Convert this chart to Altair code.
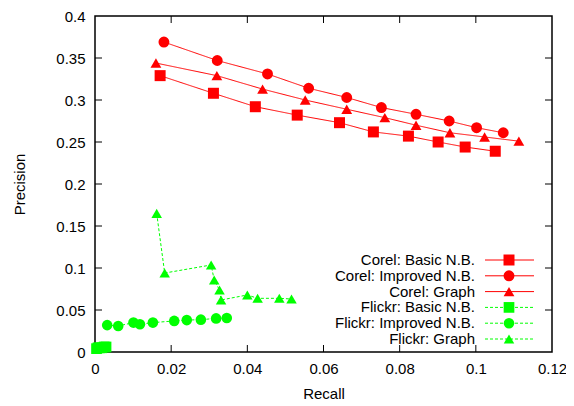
import altair as alt
import pandas as pd

# ---------------- data ----------------
series_names = [
    "Corel: Basic N.B.",
    "Corel: Improved N.B.",
    "Corel: Graph",
    "Flickr: Basic N.B.",
    "Flickr: Improved N.B.",
    "Flickr: Graph",
]

corel_basic_recall = [0.0171, 0.0311, 0.0421, 0.0531, 0.0642, 0.0731, 0.0823, 0.0901, 0.0972, 0.1051]
corel_basic_precision = [0.329, 0.308, 0.292, 0.282, 0.273, 0.262, 0.257, 0.250, 0.244, 0.239]

corel_improved_recall = [0.0181, 0.0321, 0.0453, 0.0561, 0.0661, 0.0752, 0.0843, 0.0930, 0.1002, 0.1072]
corel_improved_precision = [0.369, 0.347, 0.331, 0.314, 0.303, 0.291, 0.283, 0.275, 0.267, 0.261]

corel_graph_recall = [0.0160, 0.0320, 0.0440, 0.0552, 0.0661, 0.0761, 0.0843, 0.0932, 0.1023, 0.1113]
corel_graph_precision = [0.344, 0.329, 0.313, 0.300, 0.289, 0.279, 0.270, 0.261, 0.256, 0.251]

flickr_basic_recall = [0.0004, 0.0008, 0.0012, 0.0018, 0.0024, 0.0029]
flickr_basic_precision = [0.004, 0.005, 0.005, 0.005, 0.006, 0.006]

flickr_improved_recall = [0.0032, 0.0061, 0.0101, 0.0118, 0.0152, 0.0208, 0.0241, 0.0278, 0.0318, 0.0346]
flickr_improved_precision = [0.032, 0.031, 0.035, 0.033, 0.035, 0.037, 0.038, 0.0385, 0.040, 0.0405]

flickr_graph_recall = [0.0162, 0.0183, 0.0305, 0.0313, 0.0327, 0.0331, 0.0400, 0.0427, 0.0484, 0.0516]
flickr_graph_precision = [0.165, 0.094, 0.1036, 0.0857, 0.0738, 0.0619, 0.0679, 0.0639, 0.0639, 0.0631]

x_tick_values = [0, 0.02, 0.04, 0.06, 0.08, 0.1, 0.12]
y_tick_values = [0, 0.05, 0.1, 0.15, 0.2, 0.25, 0.3, 0.35, 0.4]

colors = ["#ff0000", "#ff0000", "#ff0000", "#00ff00", "#00ff00", "#00ff00"]
shapes = ["square", "circle", "triangle-up", "square", "circle", "triangle-up"]
sizes = [121, 110, 120, 121, 110, 120]
dashes = [[1, 0], [1, 0], [1, 0], [3, 2], [3, 2], [3, 2]]

# ---------------- build table ----------------
all_recall = [corel_basic_recall, corel_improved_recall, corel_graph_recall,
              flickr_basic_recall, flickr_improved_recall, flickr_graph_recall]
all_precision = [corel_basic_precision, corel_improved_precision, corel_graph_precision,
                 flickr_basic_precision, flickr_improved_precision, flickr_graph_precision]

rows = []
for name, rs, ps in zip(series_names, all_recall, all_precision):
    for i, (r, p) in enumerate(zip(rs, ps)):
        rows.append({"series": name, "recall": r, "precision": p, "order": i})
df = pd.DataFrame(rows)

W, H = 457, 336
FONT = "Liberation Sans"
FS = 15

color_scale = alt.Scale(domain=series_names, range=colors)
shape_scale = alt.Scale(domain=series_names, range=shapes)
size_scale = alt.Scale(domain=series_names, range=sizes)
dash_scale = alt.Scale(domain=series_names, range=dashes)

x_enc = alt.X(
    "recall:Q",
    scale=alt.Scale(domain=[0, 0.12], nice=False, zero=False),
    axis=alt.Axis(values=x_tick_values, format="~g", ticks=False, tickSize=0,
                  domain=False, grid=False, labelFlush=False, labelOverlap=False,
                  labelPadding=9, labelFontSize=FS, labelFont=FONT, labelColor="black",
                  title="Recall", titleFont=FONT, titleFontSize=FS,
                  titleFontWeight="normal", titleColor="black",
                  titleBaseline="alphabetic", titleY=46),
)
y_enc = alt.Y(
    "precision:Q",
    scale=alt.Scale(domain=[0, 0.4], nice=False, zero=False),
    axis=alt.Axis(values=y_tick_values, format="~g", ticks=False, tickSize=0,
                  domain=False, grid=False, labelFlush=False, labelOverlap=False,
                  labelPadding=10, labelFontSize=FS, labelFont=FONT, labelColor="black",
                  title="Precision", titleFont=FONT, titleFontSize=FS,
                  titleFontWeight="normal", titleColor="black",
                  titleBaseline="middle", titleX=-76, titleY=H / 2),
)

lines = alt.Chart(df).mark_line(strokeWidth=1, clip=False).encode(
    x=x_enc,
    y=y_enc,
    color=alt.Color("series:N", scale=color_scale, legend=None),
    strokeDash=alt.StrokeDash("series:N", scale=dash_scale, legend=None),
    detail="series:N",
    order="order:Q",
)

points = alt.Chart(df).mark_point(filled=True, opacity=1, clip=False).encode(
    x="recall:Q",
    y="precision:Q",
    color=alt.Color("series:N", scale=color_scale, legend=None),
    shape=alt.Shape("series:N", scale=shape_scale, legend=None),
    size=alt.Size("series:N", scale=size_scale, legend=None),
)

# inward ticks (gnuplot style), mirrored on all four sides
inner_x = pd.DataFrame({"recall": x_tick_values[1:-1]})
inner_y = pd.DataFrame({"precision": y_tick_values[1:-1]})
TL = 7
tick_b = alt.Chart(inner_x).mark_rule(color="black", strokeWidth=1).encode(
    x="recall:Q", y=alt.value(H), y2=alt.value(H - TL))
tick_t = alt.Chart(inner_x).mark_rule(color="black", strokeWidth=1).encode(
    x="recall:Q", y=alt.value(0), y2=alt.value(TL))
tick_l = alt.Chart(inner_y).mark_rule(color="black", strokeWidth=1).encode(
    y="precision:Q", x=alt.value(0), x2=alt.value(TL))
tick_r = alt.Chart(inner_y).mark_rule(color="black", strokeWidth=1).encode(
    y="precision:Q", x=alt.value(W), x2=alt.value(W - TL))

# key (gnuplot-style: label on the left, line sample + marker on the right)
key_top_px = 244
key_step_px = 15.8
leg = pd.DataFrame({
    "series": series_names,
    "precision": [0.4 * (1 - (key_top_px + i * key_step_px) / H) for i in range(len(series_names))],
})
leg_text = alt.Chart(leg).mark_text(align="right", baseline="middle", font=FONT,
                                    fontSize=FS, color="black").encode(
    x=alt.value(380), y="precision:Q", text="series:N")
leg_line = alt.Chart(leg).mark_rule(strokeWidth=1).encode(
    x=alt.value(390), x2=alt.value(439), y="precision:Q",
    color=alt.Color("series:N", scale=color_scale, legend=None),
    strokeDash=alt.StrokeDash("series:N", scale=dash_scale, legend=None))
leg_pt = alt.Chart(leg).mark_point(filled=True, opacity=1).encode(
    x=alt.value(414), y="precision:Q",
    color=alt.Color("series:N", scale=color_scale, legend=None),
    shape=alt.Shape("series:N", scale=shape_scale, legend=None),
    size=alt.Size("series:N", scale=size_scale, legend=None))

chart = alt.layer(
    tick_b, tick_t, tick_l, tick_r, lines, points, leg_line, leg_pt, leg_text
).properties(
    width=W, height=H,
    autosize=alt.AutoSizeParams(type="none"),
    padding={"left": 87, "top": 8, "right": 14, "bottom": 52},
    background="white",
).configure_view(stroke="black", strokeWidth=1.5)

chart.save("out.html", embed_options={"renderer": "svg", "actions": False})
